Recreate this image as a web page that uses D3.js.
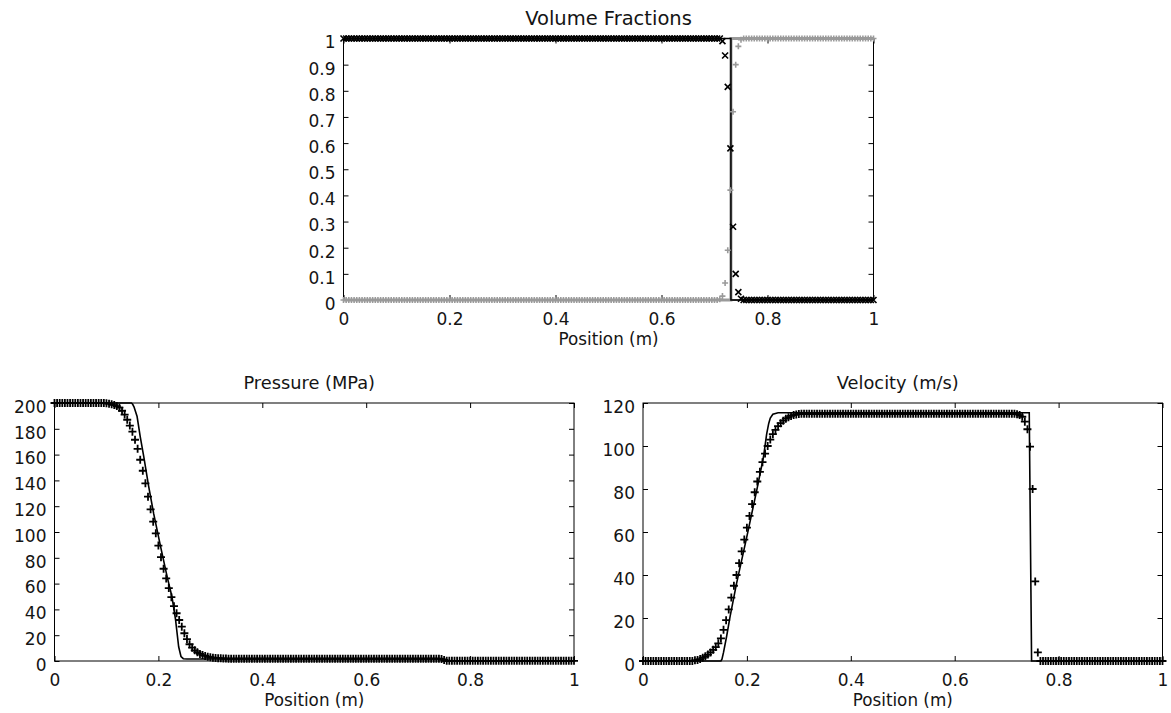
<!DOCTYPE html>
<html><head><meta charset="utf-8">
<script src="https://cdn.jsdelivr.net/npm/d3@7"></script>
<style>
body{margin:0;background:#fff}
svg{display:block}
</style>
</head><body>
<svg id="c" width="1171" height="713"></svg>
<script>
// ---- grid positions (m) ----
const positions = [
0,0.005,0.01,0.015,0.02,0.025,0.03,0.035,0.04,0.045,
0.05,0.055,0.06,0.065,0.07,0.075,0.08,0.085,0.09,0.095,
0.1,0.105,0.11,0.115,0.12,0.125,0.13,0.135,0.14,0.145,
0.15,0.155,0.16,0.165,0.17,0.175,0.18,0.185,0.19,0.195,
0.2,0.205,0.21,0.215,0.22,0.225,0.23,0.235,0.24,0.245,
0.25,0.255,0.26,0.265,0.27,0.275,0.28,0.285,0.29,0.295,
0.3,0.305,0.31,0.315,0.32,0.325,0.33,0.335,0.34,0.345,
0.35,0.355,0.36,0.365,0.37,0.375,0.38,0.385,0.39,0.395,
0.4,0.405,0.41,0.415,0.42,0.425,0.43,0.435,0.44,0.445,
0.45,0.455,0.46,0.465,0.47,0.475,0.48,0.485,0.49,0.495,
0.5,0.505,0.51,0.515,0.52,0.525,0.53,0.535,0.54,0.545,
0.55,0.555,0.56,0.565,0.57,0.575,0.58,0.585,0.59,0.595,
0.6,0.605,0.61,0.615,0.62,0.625,0.63,0.635,0.64,0.645,
0.65,0.655,0.66,0.665,0.67,0.675,0.68,0.685,0.69,0.695,
0.7,0.705,0.71,0.715,0.72,0.725,0.73,0.735,0.74,0.745,
0.75,0.755,0.76,0.765,0.77,0.775,0.78,0.785,0.79,0.795,
0.8,0.805,0.81,0.815,0.82,0.825,0.83,0.835,0.84,0.845,
0.85,0.855,0.86,0.865,0.87,0.875,0.88,0.885,0.89,0.895,
0.9,0.905,0.91,0.915,0.92,0.925,0.93,0.935,0.94,0.945,
0.95,0.955,0.96,0.965,0.97,0.975,0.98,0.985,0.99,0.995,
1];

// ---- volume fraction, phase 1 (x markers) ----
const alpha1 = [
1,1,1,1,1,1,1,1,1,1, 1,1,1,1,1,1,1,1,1,1,
1,1,1,1,1,1,1,1,1,1, 1,1,1,1,1,1,1,1,1,1,
1,1,1,1,1,1,1,1,1,1, 1,1,1,1,1,1,1,1,1,1,
1,1,1,1,1,1,1,1,1,1, 1,1,1,1,1,1,1,1,1,1,
1,1,1,1,1,1,1,1,1,1, 1,1,1,1,1,1,1,1,1,1,
1,1,1,1,1,1,1,1,1,1, 1,1,1,1,1,1,1,1,1,1,
1,1,1,1,1,1,1,1,1,1, 1,1,1,1,1,1,1,1,1,1,
1,1,1,0.99,0.935,0.815,0.58,0.28,0.10,0.03,
0.005,0,0,0,0,0,0,0,0,0,
0,0,0,0,0,0,0,0,0,0, 0,0,0,0,0,0,0,0,0,0,
0,0,0,0,0,0,0,0,0,0, 0,0,0,0,0,0,0,0,0,0,
0];

// ---- volume fraction, phase 2 (+ markers, grey) ----
const alpha2 = [
0,0,0,0,0,0,0,0,0,0, 0,0,0,0,0,0,0,0,0,0,
0,0,0,0,0,0,0,0,0,0, 0,0,0,0,0,0,0,0,0,0,
0,0,0,0,0,0,0,0,0,0, 0,0,0,0,0,0,0,0,0,0,
0,0,0,0,0,0,0,0,0,0, 0,0,0,0,0,0,0,0,0,0,
0,0,0,0,0,0,0,0,0,0, 0,0,0,0,0,0,0,0,0,0,
0,0,0,0,0,0,0,0,0,0, 0,0,0,0,0,0,0,0,0,0,
0,0,0,0,0,0,0,0,0,0, 0,0,0,0,0,0,0,0,0,0,
0,0,0.003,0.015,0.065,0.19,0.42,0.72,0.90,0.97,
0.995,1,1,1,1,1,1,1,1,1,
1,1,1,1,1,1,1,1,1,1, 1,1,1,1,1,1,1,1,1,1,
1,1,1,1,1,1,1,1,1,1, 1,1,1,1,1,1,1,1,1,1,
1];

// ---- pressure (MPa) markers ----
const pressure = [
200,200,200,200,200,200,200,200,200,200,
200,200,200,200,200,200,200,200,200,200,
199.8,199.5,199,198.4,197.6,196.4,194,191,187,182.5,
177.8,171.5,164.5,156,147.5,137.7,127.4,117.6,108,99,
89.5,80.5,71.5,64,56.5,49.5,42.5,37,31.8,26.6,
21.5,17,13,10.3,8.3,6.8,5.5,4.6,3.9,3.3,
2.9,2.6,2.4,2.2,2.05,1.95,1.9,1.8,1.8,1.8,
1.8,1.8,1.8,1.8,1.8,1.8,1.8,1.8,1.8,1.8,
1.8,1.8,1.8,1.8,1.8,1.8,1.8,1.8,1.8,1.8,
1.8,1.8,1.8,1.8,1.8,1.8,1.8,1.8,1.8,1.8,
1.8,1.8,1.8,1.8,1.8,1.8,1.8,1.8,1.8,1.8,
1.8,1.8,1.8,1.8,1.8,1.8,1.8,1.8,1.8,1.8,
1.8,1.8,1.8,1.8,1.8,1.8,1.8,1.8,1.8,1.8,
1.8,1.8,1.8,1.8,1.8,1.8,1.8,1.8,1.8,1.8,
1.8,1.8,1.8,1.8,1.8,1.8,1.8,1.8,1.8,1.6,
0.8,0.2,0.1,0.1,0.1,0.1,0.1,0.1,0.1,0.1,
0.1,0.1,0.1,0.1,0.1,0.1,0.1,0.1,0.1,0.1,
0.1,0.1,0.1,0.1,0.1,0.1,0.1,0.1,0.1,0.1,
0.1,0.1,0.1,0.1,0.1,0.1,0.1,0.1,0.1,0.1,
0.1,0.1,0.1,0.1,0.1,0.1,0.1,0.1,0.1,0.1,
0.1];

// ---- velocity (m/s) markers ----
const velocity = [
0,0,0,0,0,0,0,0,0,0,
0,0,0,0,0,0,0,0,0,0,
0.3,0.5,0.9,1.5,2.2,3,4,5.2,6.5,8.2,
10.5,14.5,19,24,29.5,35,40,45.5,51,56.5,
62,67.5,73,78.5,83.5,88,92.5,96.5,100,103,
105.5,107.5,109.2,110.6,111.8,112.7,113.4,114,114.4,114.7,
114.9,115,115,115,115,115,115,115,115,115,
115,115,115,115,115,115,115,115,115,115,
115,115,115,115,115,115,115,115,115,115,
115,115,115,115,115,115,115,115,115,115,
115,115,115,115,115,115,115,115,115,115,
115,115,115,115,115,115,115,115,115,115,
115,115,115,115,115,115,115,115,115,115,
115,115,115,115,115,115,115,115,115,115,
115,115,115,115,114.8,114.4,113.6,111.3,107.8,99.7,
80,37,4,0,0,0,0,0,0,0,
0,0,0,0,0,0,0,0,0,0,
0,0,0,0,0,0,0,0,0,0,
0,0,0,0,0,0,0,0,0,0,
0,0,0,0,0,0,0,0,0,0,
0];

// ---- exact solutions (solid lines) ----
const vfExactX = [0, 0.731, 0.731, 1];
const alpha1Exact = [1, 1, 0, 0];
const alpha2Exact = [0, 0, 1, 1];
const pExactX = [0,0.148,0.1505,0.153,0.159,0.165,0.172,0.181,0.191,0.204,0.217,0.226,0.233,0.239,0.2435,0.248,0.255,0.745,0.7455,1];
const pExact  = [200,200,199,197,189.5,174,158,136,114,89,65,50,32,11,3.5,1.8,1.5,1.5,0.1,0.1];
const vExactX = [0,0.150,0.152,0.155,0.161,0.1675,0.18,0.2,0.219,0.232,0.238,0.242,0.245,0.25,0.26,0.7435,0.748,1];
const vExact  = [0,0,0.8,4,11.5,20.5,36,58,79.5,95,105.5,110.5,113,114.8,115.5,115.5,0,0];

// ---- ticks ----
const xTickValues = [0,0.2,0.4,0.6,0.8,1];
const xTickLabels = ["0","0.2","0.4","0.6","0.8","1"];
const vfTickValues = [0,0.1,0.2,0.3,0.4,0.5,0.6,0.7,0.8,0.9,1];
const vfTickLabels = ["0","0.1","0.2","0.3","0.4","0.5","0.6","0.7","0.8","0.9","1"];
const pTickValues = [0,20,40,60,80,100,120,140,160,180,200];
const pTickLabels = ["0","20","40","60","80","100","120","140","160","180","200"];
const vTickValues = [0,20,40,60,80,100,120];
const vTickLabels = ["0","20","40","60","80","100","120"];

const titles = ["Volume Fractions","Pressure (MPa)","Velocity (m/s)"];
const xLabel = "Position (m)";

const svg = d3.select("#c");
const FONT = "DejaVu Sans";
const TXT = "#141414";

function drawPanel(cfg){
  const x = d3.scaleLinear().domain([0,1]).range([cfg.left,cfg.right]);
  const y = d3.scaleLinear().domain([0,cfg.ymax]).range([cfg.bottom,cfg.top]);
  const g = svg.append("g");

  const ax = (axis, tx, ty) => {
    const a = g.append("g").attr("transform",`translate(${tx},${ty})`).call(axis);
    a.attr("font-family",FONT).attr("font-size",17);
    a.select(".domain").remove();
    a.selectAll(".tick line").attr("stroke","#000").attr("stroke-width",1);
    a.selectAll(".tick text").attr("fill",TXT);
    return a;
  };
  ax(d3.axisBottom(x).tickValues(xTickValues).tickFormat((d,i)=>xTickLabels[i])
      .tickSizeInner(-5).tickSizeOuter(0).tickPadding(13), 0, cfg.bottom);
  ax(d3.axisTop(x).tickValues(xTickValues).tickFormat("")
      .tickSizeInner(-5).tickSizeOuter(0), 0, cfg.top);
  const la = ax(d3.axisLeft(y).tickValues(cfg.yTicks).tickFormat((d,i)=>cfg.yLabels[i])
      .tickSizeInner(-5).tickSizeOuter(0).tickPadding(8), cfg.left, 0);
  la.selectAll(".tick text").attr("dy","0.55em");
  ax(d3.axisRight(y).tickValues(cfg.yTicks).tickFormat("")
      .tickSizeInner(-5).tickSizeOuter(0), cfg.right, 0);

  g.append("rect").attr("x",cfg.left).attr("y",cfg.top)
    .attr("width",cfg.right-cfg.left).attr("height",cfg.bottom-cfg.top)
    .attr("fill","none").attr("stroke","#000").attr("stroke-width",1);

  g.append("text").attr("x",(cfg.left+cfg.right)/2 + cfg.titleShift).attr("y",cfg.top-14)
    .attr("text-anchor","middle").attr("font-family",FONT).attr("font-size",cfg.titleSize)
    .attr("fill",TXT).text(cfg.title);
  g.append("text").attr("x",(cfg.left+cfg.right)/2).attr("y",cfg.bottom+45)
    .attr("text-anchor","middle").attr("font-family",FONT).attr("font-size",16.8)
    .attr("fill",TXT).text(xLabel);

  const line = (xs, ys, color, w) => {
    g.append("path").datum(d3.range(xs.length))
      .attr("d", d3.line().x(i=>x(xs[i])).y(i=>y(ys[i])))
      .attr("fill","none").attr("stroke",color).attr("stroke-width",w)
      .attr("stroke-linejoin","miter");
  };
  const markers = (ys, shape, color, w) => {
    g.append("g").selectAll("path").data(d3.range(positions.length)).join("path")
      .attr("transform", i => `translate(${x(positions[i])},${y(ys[i])})`)
      .attr("d", shape).attr("fill","none").attr("stroke",color).attr("stroke-width",w);
  };
  return {x, y, line, markers};
}

const PLUS_S = "M-3,0H3M0,-3V3";
const PLUS_L = "M-4,0H4M0,-4V4";
const CROSS = "M-3,-3L3,3M-3,3L3,-3";

// Volume fractions
const p1 = drawPanel({left:343.5,right:873.5,top:38.5,bottom:300,ymax:1,
  yTicks:vfTickValues,yLabels:vfTickLabels,title:titles[0],titleSize:19.5,titleShift:0});
p1.line(vfExactX, alpha2Exact, "#9a9a9a", 3);
p1.line(vfExactX, alpha1Exact, "#000", 1.5);
p1.markers(alpha2, PLUS_S, "#9a9a9a", 1.6);
p1.markers(alpha1, CROSS, "#000", 1.6);

// Pressure
const p2 = drawPanel({left:54.5,right:574,top:403,bottom:661,ymax:200,
  yTicks:pTickValues,yLabels:pTickLabels,title:titles[1],titleSize:17.8,titleShift:-5});
p2.line(pExactX, pExact, "#000", 1.6);
p2.markers(pressure, PLUS_L, "#000", 1.8);

// Velocity
const p3 = drawPanel({left:643,right:1162.5,top:403,bottom:661,ymax:120,
  yTicks:vTickValues,yLabels:vTickLabels,title:titles[2],titleSize:17.8,titleShift:-5});
p3.line(vExactX, vExact, "#000", 1.6);
p3.markers(velocity, PLUS_L, "#000", 1.8);
</script>
</body></html>
